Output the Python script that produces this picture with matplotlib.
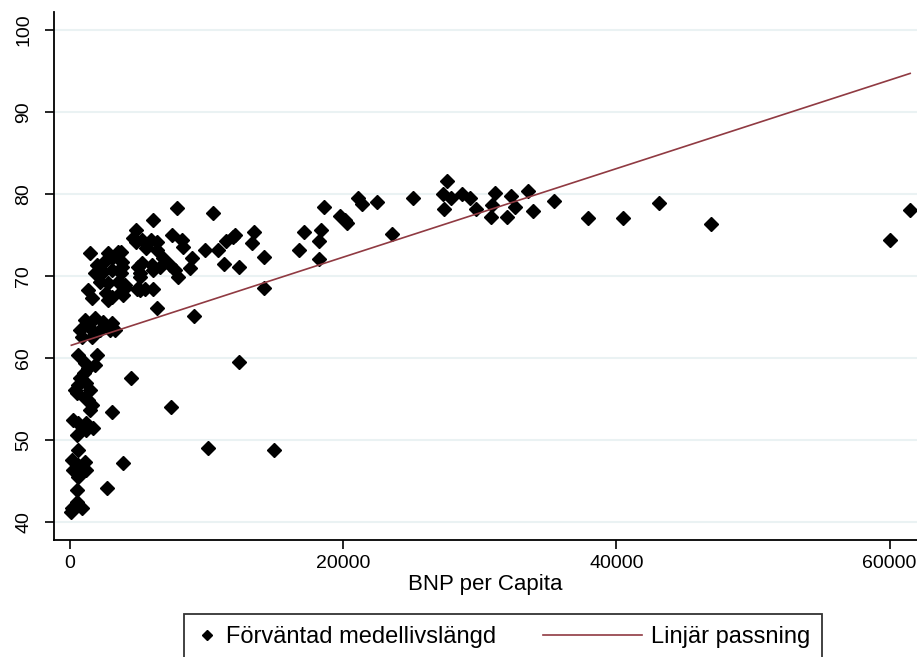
import matplotlib
matplotlib.use("Agg")
import matplotlib.pyplot as plt
from matplotlib.legend_handler import HandlerBase
from matplotlib.lines import Line2D
import numpy as np

plt.rcParams['font.family'] = ['Liberation Sans', 'DejaVu Sans']

# BNP per capita (USD) och förväntad medellivslängd (år)
gdp = [
    25100, 27600, 27300, 27900, 27400, 28700, 29300, 29700, 30800, 31100,
    30900, 32300, 32000, 32600, 33500, 33900, 35400, 37900, 40500, 43100,
    46900, 60000, 61500,
    13500, 13300, 14200, 17100, 16800, 18400, 18200, 18600, 18200, 19800,
    20100, 20300, 21100, 21400, 22500, 23600, 14200,
    6400, 9100, 12400, 4500, 7400, 3100, 10100, 14900, 3900,
    600, 2000, 1100, 1300, 1800, 1000, 700, 600, 1200, 500,
    1500, 1300, 1600, 1500, 1100, 400, 200, 600, 1200, 1700,
    1100, 500, 1200, 600, 150, 1100, 600, 200, 1200, 600,
    500, 2700, 500, 150, 900, 100,
    7800, 10500, 6100, 4800, 4600, 5900, 6400, 7500, 8200, 8300,
    5600, 6400, 6800, 3700, 3800, 5300, 6000, 6600, 7300, 7700,
    5100, 6100, 7900, 8800, 8900, 9900, 10800, 11400, 11900, 12100,
    11300, 12400, 3700, 4000, 4900, 5500, 6100, 3900,
    1500, 2800, 3500, 4800, 5300, 2000, 2600, 3100, 3800, 1800,
    2400, 3100, 3700, 2200, 2800, 3500, 4000, 2600, 3100, 3700,
    2800, 1300, 1600, 5000, 5100, 5100, 1100, 1800, 2400, 3100,
    700, 1500, 2200, 2900, 900, 1600, 3300,
]
life_exp = [
    79.5, 81.6, 80.0, 79.5, 78.2, 80.0, 79.5, 78.2, 77.2, 80.1,
    78.7, 79.8, 77.2, 78.4, 80.4, 77.9, 79.1, 77.1, 77.1, 78.9,
    76.3, 74.4, 78.0,
    75.4, 74.0, 72.3, 75.4, 73.2, 75.6, 74.3, 78.4, 72.1, 77.3,
    76.8, 76.5, 79.5, 78.8, 79.0, 75.1, 68.5,
    66.1, 65.1, 59.5, 57.6, 54.0, 53.4, 49.0, 48.8, 47.2,
    60.4, 60.4, 59.4, 58.8, 59.1, 58.2, 57.6, 56.7, 57.0, 55.7,
    56.1, 54.9, 54.3, 53.7, 55.1, 56.1, 52.4, 52.1, 52.1, 51.5,
    51.8, 50.6, 51.2, 48.8, 47.6, 47.3, 47.0, 46.3, 46.3, 45.5,
    43.9, 44.1, 42.4, 41.7, 41.7, 41.2,
    78.3, 77.7, 76.8, 75.6, 74.6, 74.4, 74.1, 75.0, 74.4, 73.5,
    73.4, 73.2, 72.2, 72.9, 71.1, 71.6, 71.3, 71.1, 71.3, 70.7,
    70.4, 70.7, 69.9, 71.0, 72.2, 73.2, 73.2, 74.3, 74.8, 75.0,
    71.5, 71.1, 69.1, 68.5, 68.4, 68.4, 68.4, 67.7,
    72.8, 72.8, 72.9, 74.1, 74.4, 71.3, 72.0, 72.2, 71.7, 70.4,
    70.5, 70.7, 70.4, 69.3, 69.1, 69.3, 68.9, 67.9, 67.4, 68.0,
    67.1, 68.3, 67.3, 71.1, 69.9, 68.3, 64.6, 64.9, 64.4, 64.3,
    63.4, 63.7, 63.4, 63.4, 62.6, 62.6, 63.4,
]

# linjär passning
fit_intercept = 61.5
fit_slope = 0.00054

y_ticks = [40, 50, 60, 70, 80, 90, 100]
x_ticks = [0, 20000, 40000, 60000]


# legendlinjen är längre än markörens ruta, som i Stata
class LongLineHandler(HandlerBase):
    def __init__(self, extra, **kw):
        super().__init__(**kw)
        self.extra = extra

    def create_artists(self, legend, orig_handle, xdescent, ydescent,
                       width, height, fontsize, trans):
        y = height / 2 - ydescent
        line = Line2D([-xdescent - self.extra, width - xdescent], [y, y],
                      color=orig_handle.get_color(),
                      lw=orig_handle.get_linewidth(), transform=trans)
        return [line]


fig = plt.figure(figsize=(9.17, 6.57), dpi=100)
ax = fig.add_axes([54 / 917, 117 / 657, 863 / 917, 528 / 657])

for y in y_ticks:
    ax.axhline(y, color='#eaf2f3', lw=1.5, zorder=0)

pts, = ax.plot(gdp, life_exp, linestyle='none', marker='D', ms=7.5, color='black',
               label='Förväntad medellivslängd', zorder=3)

fit_x = np.array([min(gdp), max(gdp)])
fit_line, = ax.plot(fit_x, fit_intercept + fit_slope * fit_x, color='#903a42', lw=1.2,
                    label='Linjär passning', zorder=4)

ax.set_xlim(-1170, 62000)
ax.set_ylim(37.8, 102.2)
ax.set_yticks(y_ticks)
ax.set_xticks(x_ticks)
ax.set_yticklabels([str(v) for v in y_ticks], rotation=90, va='center')
ax.tick_params(axis='both', direction='out', length=6.5, width=1.2, labelsize=14,
               colors='black')
ax.tick_params(axis='y', pad=9)
ax.tick_params(axis='x', pad=4)
ax.spines['top'].set_visible(False)
ax.spines['right'].set_visible(False)
ax.spines['left'].set_linewidth(1.3)
ax.spines['bottom'].set_linewidth(1.3)
ax.set_xlabel('BNP per Capita', fontsize=16, labelpad=2)

leg = fig.legend(handles=[pts, fit_line], loc='upper center',
                 bbox_to_anchor=(503 / 917, 1 - 614 / 657), borderaxespad=0,
                 ncol=2, fontsize=17, frameon=True, fancybox=False,
                 edgecolor='black', handlelength=0.9, handletextpad=0.35,
                 columnspacing=5.3, markerscale=0.65, borderpad=0.5,
                 handler_map={fit_line: LongLineHandler(56)})
leg.get_frame().set_linewidth(1.3)

plt.savefig('out.png', dpi=100)
